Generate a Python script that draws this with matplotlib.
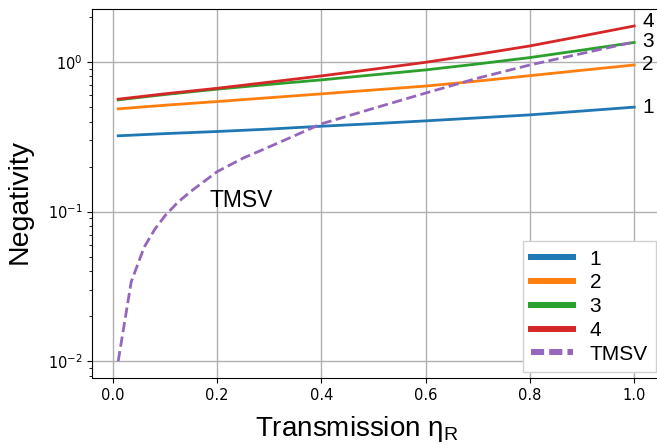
import numpy as np
import matplotlib
matplotlib.use("Agg")
import matplotlib.pyplot as plt

# transmission grid for the photon-subtracted curves
eta = [0.01, 0.1, 0.2, 0.3, 0.4, 0.5, 0.6, 0.7, 0.8, 0.9, 1.0]
neg_1 = [0.321, 0.332, 0.343, 0.356, 0.372, 0.387, 0.404, 0.423, 0.443, 0.470, 0.499]
neg_2 = [0.486, 0.514, 0.544, 0.577, 0.612, 0.650, 0.690, 0.745, 0.810, 0.880, 0.955]
neg_3 = [0.558, 0.606, 0.658, 0.708, 0.759, 0.820, 0.885, 0.970, 1.070, 1.200, 1.350]
neg_4 = [0.564, 0.613, 0.667, 0.733, 0.807, 0.895, 0.995, 1.125, 1.280, 1.490, 1.740]

# TMSV reference curve
eta_tmsv = [0.01, 0.035, 0.06, 0.08, 0.1, 0.125, 0.15, 0.2, 0.25, 0.3, 0.4,
            0.5, 0.6, 0.7, 0.8, 0.9, 1.0]
neg_tmsv = [0.010, 0.034, 0.058, 0.076, 0.094, 0.116, 0.137, 0.185, 0.228, 0.271, 0.386,
            0.490, 0.620, 0.780, 0.955, 1.140, 1.360]

labels = ["1", "2", "3", "4"]
label_y = [0.50, 0.955, 1.36, 1.85]

sans = ["Liberation Sans", "DejaVu Sans"]

fig = plt.figure(figsize=(6.57, 4.44), dpi=100)
ax = fig.add_axes([92.4 / 657, 66 / 444, 567.6 / 657, 368.8 / 444])

for y, lab in zip([neg_1, neg_2, neg_3, neg_4], labels):
    ax.plot(eta, y, lw=2, label=lab)
ax.plot(eta_tmsv, neg_tmsv, "--", lw=2, color="tab:purple", label="TMSV")

ax.set_yscale("log")
ax.grid(True, which="major", color="#b0b0b0", lw=1)

for lab, y in zip(labels, label_y):
    ax.text(1.015, y, lab, fontsize=15, family=sans, va="center", ha="left")
ax.text(0.185, 0.108, "TMSV", fontsize=16.5, family=sans, va="baseline")

ax.set_xlabel(r"Transmission $\mathregular{\eta_R}$", fontsize=20, family=sans)
ax.set_ylabel("Negativity", fontsize=20.5, family=sans)
ax.xaxis.set_label_coords(0.466, -0.098)
ax.yaxis.set_label_coords(-0.105, 0.479)
ax.tick_params(labelsize=10.5)

leg = ax.legend(loc="lower right", bbox_to_anchor=(0.993, 0.016), borderaxespad=0,
                prop={"family": sans, "size": 15}, labelspacing=0.23,
                fancybox=False, edgecolor="#d0d0d0", framealpha=1)
for line in leg.get_lines():
    line.set_linewidth(4.3)
leg.get_lines()[-1].set_dashes([2.2, 0.85])

fig.savefig("out.png", dpi=100)
